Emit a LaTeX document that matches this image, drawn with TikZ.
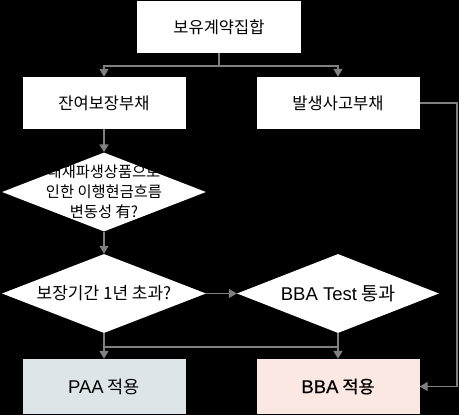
\documentclass[tikz,border=0pt]{standalone}
\usepackage{fontspec}
\setmainfont{Noto Sans CJK KR}
\newfontfamily\enfont{Liberation Sans}
\newfontfamily\krbold{Noto Sans CJK KR}[FakeBold=0.6]
\newfontfamily\enbold{Liberation Sans}[FakeBold=0.6]
\usetikzlibrary{arrows.meta,shapes.geometric,positioning}
\definecolor{linegray}{RGB}{128,128,128}
\definecolor{paafill}{RGB}{221,229,233}
\definecolor{bbafill}{RGB}{252,232,226}

\begin{document}
\begin{tikzpicture}[x=1pt,y=-1pt,
    box/.style={fill=white,inner sep=0pt,minimum width=163,minimum height=52},
    result/.style={box,minimum height=55,font=\fontsize{17.5}{20}\selectfont},
    dia/.style={diamond,fill=white,inner sep=0pt,minimum width=204,minimum height=79},
    txt/.style={align=center,font=\fontsize{17}{20}\selectfont},
    conn/.style={draw=linegray,line width=1.6pt},
    arr/.style={conn,-{Triangle[length=8pt,width=9pt]}},
    font=\fontsize{16.5}{20}\selectfont]

  %% background and page size
  \fill[black] (0,0) rectangle (459,415);
  \useasboundingbox (0,0) rectangle (459,415);

  %% boxes
  \node[box,minimum width=164] (pool) at (219,27) {보유계약집합};
  \node[box] (lrc) at (104,103) {잔여보장부채};
  \node[box] (lic) at (338,103) {발생사고부채};
  \node[result,fill=paafill] (paa) at (104,386.5) {{\enfont\fontsize{18.5}{20}\selectfont PAA} 적용};
  \node[result,fill=bbafill] (bba) at (338,386.5) {{\enbold\fontsize{18.5}{20}\selectfont BBA} {\krbold 적용}};

  %% decisions (text set apart, it does not fit the diamond)
  \node[dia] (deriv) at (104,192) {};
  \node[txt,font=\fontsize{15.3}{20}\selectfont] (derivtxt) at (deriv) {내재파생상품으로\\인한 이행현금흐름\\변동성 有?};
  \node[dia] (term) at (104,293.5) {};
  \node[txt] (termtxt) at (term) {보장기간 1년 초과?};
  \node[dia,minimum width=202] (test) at (338,293.5) {};
  \node[txt,font=\fontsize{18.5}{20}\selectfont] (testtxt) at (test) {{\enfont BBA Test} 통과};

  %% connectors
  \coordinate (split) at (219,66);
  \draw[conn] (pool.south) -- (split);
  \draw[arr] (split) -| (lrc.north);
  \draw[arr] (split) -| (lic.north);
  \draw[arr] (lrc.south) -- (deriv.north);
  \draw[arr] (deriv.south) -- (term.north);
  \draw[arr] (term.east) -- (test.west);
  \draw[arr] (term.south) -- (paa.north);
  \draw[arr] (test.south) -- (bba.north);
  \coordinate (merge) at (338,347);
  \draw[conn] (merge) -- (merge -| paa.north);
  % liability for incurred claims goes straight to BBA
  \coordinate (loop) at (457,103);
  \draw[arr] (lic.east) -- (loop) |- (bba.east);

\end{tikzpicture}
\end{document}
